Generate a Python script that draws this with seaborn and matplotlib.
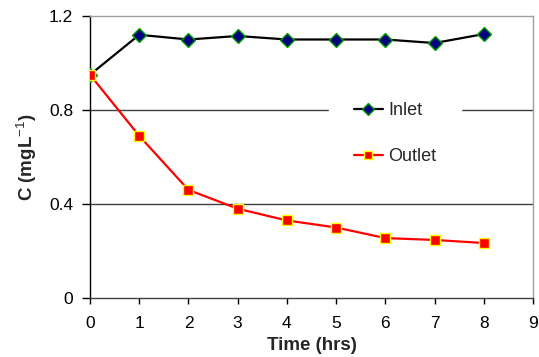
import matplotlib
matplotlib.use("Agg")
import matplotlib.pyplot as plt
import seaborn as sns
import pandas as pd

time_hrs = [0, 1, 2, 3, 4, 5, 6, 7, 8]
inlet = [0.95, 1.12, 1.10, 1.115, 1.10, 1.10, 1.10, 1.085, 1.123]
outlet = [0.95, 0.69, 0.46, 0.38, 0.33, 0.30, 0.255, 0.247, 0.234]
x_ticks = [0, 1, 2, 3, 4, 5, 6, 7, 8, 9]
y_ticks = [0, 0.4, 0.8, 1.2]

sns.set_style("white")
plt.rcParams['font.family'] = ['Liberation Sans', 'DejaVu Sans']
plt.rcParams['mathtext.fontset'] = 'custom'
plt.rcParams['mathtext.rm'] = 'Liberation Sans'
plt.rcParams['mathtext.it'] = 'Liberation Sans'
plt.rcParams['mathtext.bf'] = 'Liberation Sans:bold'

df_in = pd.DataFrame({"Time": time_hrs, "C": inlet})
df_out = pd.DataFrame({"Time": time_hrs, "C": outlet})

fig = plt.figure(figsize=(5.39, 3.57), dpi=100)
ax = fig.add_axes([90/539, 1-298/357, (533-90)/539, (298-16)/357])

sns.lineplot(data=df_in, x="Time", y="C", ax=ax, color="black", lw=1.6,
             marker="D", markersize=7.5, markerfacecolor="#000080",
             markeredgecolor="#00a000", markeredgewidth=1.0, label="Inlet", zorder=3)
sns.lineplot(data=df_out, x="Time", y="C", ax=ax, color="#ff0000", lw=1.6,
             marker="s", markersize=7.5, markerfacecolor="#ff0000",
             markeredgecolor="#ffff00", markeredgewidth=1.0, label="Outlet", zorder=4)

ax.set_xlim(0, 9)
ax.set_ylim(0, 1.2)
ax.set_xticks(x_ticks)
ax.set_yticks(y_ticks)
ax.set_yticklabels(["0", "0.4", "0.8", "1.2"])
for y in [0.4, 0.8]:
    ax.axhline(y, color="#404040", lw=1.0, zorder=1)

for s in ["top", "right"]:
    ax.spines[s].set_color("#a0a0a0")
    ax.spines[s].set_linewidth(1.0)
ax.spines["left"].set_color("black")
ax.spines["bottom"].set_color("#404040")
ax.spines["left"].set_linewidth(1.0)
ax.spines["bottom"].set_linewidth(1.0)

ax.tick_params(axis="both", direction="out", width=1.0, labelsize=12.5,
               colors="black", left=True, bottom=True)
ax.tick_params(axis="x", length=4.5, pad=8.5)
ax.tick_params(axis="y", length=6, pad=6)
ax.set_xlabel("Time (hrs)", fontsize=13.5, fontweight="bold", labelpad=4.5)
ax.set_ylabel("C (mgL$^{-1}$)", fontsize=13.5, fontweight="bold", labelpad=7)

leg = ax.legend(loc="center left", bbox_to_anchor=(0.518, 0.582), frameon=True,
                fontsize=13, handlelength=1.6, labelspacing=1.6, borderpad=1.4,
                handletextpad=0.3)
leg.get_frame().set_facecolor("white")
leg.get_frame().set_edgecolor("white")
leg.get_frame().set_alpha(1.0)
for h in leg.legend_handles:
    h.set_markersize(6)

fig.savefig("out.png", dpi=100)
